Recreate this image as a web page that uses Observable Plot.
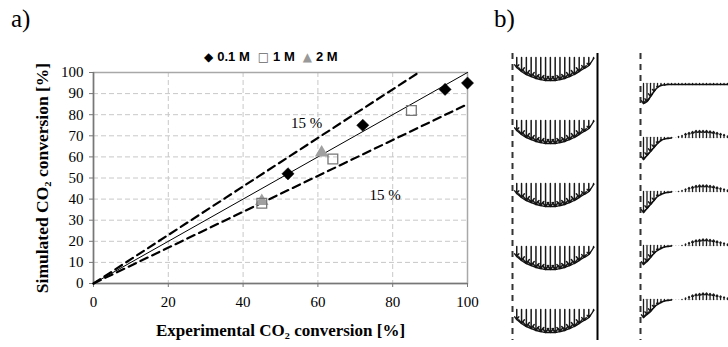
<!DOCTYPE html>
<html>
<head>
<meta charset="utf-8">
<script src="https://cdn.jsdelivr.net/npm/d3@7"></script>
<script src="https://cdn.jsdelivr.net/npm/@observablehq/plot@0.6"></script>
<style>
  html, body { margin: 0; padding: 0; background: #fff; }
  #wrap { position: relative; width: 728px; height: 347px; overflow: hidden; background: #fff; }
  .abs { position: absolute; top: 0; }
  .panel { position: absolute; font-family: "Liberation Serif", "Times New Roman", serif; font-size: 25px; line-height: 25px; color: #000; }
  #legend { position: absolute; left: 204px; top: 49px; display: flex; align-items: center;
            font-family: "Liberation Sans", Arial, sans-serif; font-weight: bold; font-size: 13px; color: #000; white-space: nowrap; }
  #legend span.sym { font-family: "DejaVu Sans", sans-serif; font-size: 12px; margin-right: 4px; }
  #legend span.item { margin-right: 8px; }
</style>
</head>
<body>
<div id="wrap">
  <div class="panel" style="left:11px; top:6px;">a)</div>
  <div class="panel" style="left:494px; top:6px;">b)</div>
  <div id="legend"></div>
  <div id="pa" class="abs" style="left:0px;"></div>
  <div id="pbl" class="abs" style="left:490px;"></div>
  <div id="pbr" class="abs" style="left:620px;"></div>
</div>
<script>
// ---------- Panel a data ----------
const xTicks = [0, 20, 40, 60, 80, 100];
const yTicks = [0, 10, 20, 30, 40, 50, 60, 70, 80, 90, 100];
const seriesNames = ["0.1 M", "1 M", "2 M"];
const exp01 = [52, 72, 94, 100];
const sim01 = [52, 75, 92, 95];
const exp1 = [45, 64, 85];
const sim1 = [38, 59, 82];
const exp2 = [45, 61];
const sim2 = [39, 62];
const refSlopes = [1, 1.15, 0.85];
const bandLabels = ["15 %", "15 %"];
const bandLabelX = [57, 78];
const bandLabelY = [76, 42];
const xTitle = "Experimental CO\u2082 conversion [%]";
const yTitle = "Simulated CO\u2082 conversion [%]";

// ---------- Panel b data ----------
const profileRows = [0, 1, 2, 3, 4];
// left channel: axial velocity (arrow length) at 17 radial stations, same for each row
const leftVel = [10, 14, 17, 19, 21, 22, 23, 23, 23, 22, 21, 19, 17, 14, 11, 8, 1];
// right channel: signed velocity at 25 radial stations (positive = downward)
const rightVel = [
  [20, 18, 13, 8, 4, 2, 1.5, 1, 1, 1, 1, 1, 1, 1, 1, 1, 1, 1, 1, 1, 1, 1, 1, 1, 1],
  [22, 18, 14, 10, 6, 3, 1.5, 1, 0.5, 0, -1, -2, -4, -5, -6, -7, -7, -7, -7, -6.5, -6, -5, -4, -3, -1.5],
  [21, 17, 13, 9, 5, 3, 1.5, 1, 0.5, 0, -0.5, -1, -2.5, -4, -5, -6, -6.5, -6.5, -6.5, -6, -5.5, -4.5, -3.5, -2.5, -1.5],
  [19, 16, 12, 8, 5, 3, 1.5, 1, 0.5, 0, 0, -0.5, -1.5, -3, -4.5, -5.5, -6, -6.5, -6.5, -6, -5.5, -4.5, -3.5, -2.5, -1.5],
  [18, 15, 12, 8, 5, 3, 1.5, 1, 0.5, 0, 0, -0.5, -1.5, -3, -4.5, -5.5, -6, -6.5, -6.5, -6, -5.5, -4.5, -3.5, -2.5, -1.5]
];

// ---------- Panel a ----------
const pts = [
  ...exp01.map((x, i) => ({x, y: sim01[i], s: seriesNames[0]})),
  ...exp1.map((x, i) => ({x, y: sim1[i], s: seriesNames[1]})),
  ...exp2.map((x, i) => ({x, y: sim2[i], s: seriesNames[2]}))
];
const refLines = refSlopes.flatMap((k, j) => [
  {x: 0, y: 0, k, j},
  {x: Math.min(100, 100 / k), y: Math.min(100, 100 * k), k, j}
]);
const labels = bandLabels.map((t, i) => ({t, x: bandLabelX[i], y: bandLabelY[i]}));

const plotA = Plot.plot({
  width: 480, height: 347,
  marginLeft: 93, marginRight: 13, marginTop: 72, marginBottom: 64,
  x: {domain: [0, 100]},
  y: {domain: [0, 100]},
  style: {fontFamily: "'Liberation Serif', 'Times New Roman', serif", fontSize: "15px", color: "#000", background: "transparent", overflow: "visible"},
  marks: [
    Plot.gridX(xTicks, {stroke: "#c8c8c8", strokeOpacity: 1, strokeDasharray: "5,3"}),
    Plot.gridY(yTicks, {stroke: "#c8c8c8", strokeOpacity: 1, strokeDasharray: "5,3"}),
    Plot.frame({stroke: "#a8a8a8", strokeWidth: 1.5}),
    Plot.ruleY([0], {stroke: "#777", strokeWidth: 1.5}),
    Plot.ruleX([0], {stroke: "#777", strokeWidth: 1.5}),
    Plot.axisX(xTicks, {tickSize: 4, tickPadding: 9, label: null, stroke: "#777", fontSize: 15}),
    Plot.axisY(yTicks, {tickSize: 4, tickPadding: 6, label: null, stroke: "#777", fontSize: 15}),
    Plot.line(refLines.filter(d => d.k === 1), {x: "x", y: "y", stroke: "#000", strokeWidth: 1}),
    Plot.line(refLines.filter(d => d.k !== 1), {x: "x", y: "y", z: "j", stroke: "#000", strokeWidth: 2.2, strokeDasharray: "8,5"}),
    Plot.text(labels, {x: "x", y: "y", text: "t", fontSize: 15}),
    Plot.dot(pts.filter(d => d.s === seriesNames[2]), {x: "x", y: "y", symbol: "triangle", r: 5, fill: "#a0a0a0"}),
    Plot.dot(pts.filter(d => d.s === seriesNames[1]), {x: "x", y: "y", symbol: "square", r: 5.5, fill: "none", stroke: "#777", strokeWidth: 1.3}),
    Plot.dot(pts.filter(d => d.s === seriesNames[0]), {x: "x", y: "y", symbol: "diamond2", r: 5.5, fill: "#000", stroke: "#000", strokeWidth: 0.5}),
    Plot.text([xTitle], {frameAnchor: "bottom", dy: 52, fontWeight: "bold", fontSize: 17}),
    Plot.text([yTitle], {frameAnchor: "left", textAnchor: "middle", dx: -51, rotate: -90, fontWeight: "bold", fontSize: 17.5})
  ]
});
document.getElementById("pa").appendChild(plotA);

// legend
const legendSyms = [
  {sym: "\u25C6", color: "#000"},
  {sym: "\u25A1", color: "#666"},
  {sym: "\u25B2", color: "#999"}
];
const leg = document.getElementById("legend");
seriesNames.forEach((name, i) => {
  const s = document.createElement("span");
  s.className = "sym";
  s.style.color = legendSyms[i].color;
  s.textContent = legendSyms[i].sym;
  const t = document.createElement("span");
  t.className = "item";
  t.textContent = name;
  leg.appendChild(s); leg.appendChild(t);
});

// ---------- Panel b, left channel ----------
const leftStations = leftVel.map((_, i) => 0.05 + i * 0.0565);
const leftRowSpacing = 63;   // velocity units between consecutive profiles
const leftData = profileRows.flatMap(r => leftVel.map((v, i) => ({r, x: leftStations[i], y1: r * leftRowSpacing, y2: r * leftRowSpacing + v, v})));

const plotBL = Plot.plot({
  width: 120, height: 347,
  marginLeft: 22, marginRight: 13, marginTop: 53, marginBottom: 7,
  x: {domain: [0, 1], axis: null},
  y: {domain: [-4, 283], reverse: true, axis: null},
  style: {background: "transparent"},
  marks: [
    Plot.ruleX([0], {stroke: "#333", strokeWidth: 2, strokeDasharray: "6,5"}),
    Plot.ruleX([1], {stroke: "#000", strokeWidth: 2}),
    Plot.arrow(leftData, {x1: "x", x2: "x", y1: "y1", y2: "y2", stroke: "#1a1a1a", strokeWidth: 1.5, headLength: 5, headAngle: 75}),
    Plot.line(leftData, {x: "x", y: "y2", z: "r", stroke: "#111", strokeWidth: 1.4, curve: "natural"})
  ]
});
document.getElementById("pbl").appendChild(plotBL);

// ---------- Panel b, right channel ----------
const rightStations = rightVel[0].map((_, i) => 0.034 + i * 0.0398);
const rightRowSpacing = 54;
const rightData = profileRows.flatMap(r => rightVel[r].map((v, i) => ({r, i, x: rightStations[i], y1: r * rightRowSpacing, y2: r * rightRowSpacing + v, v})));

const plotBR = Plot.plot({
  width: 108, height: 347,
  marginLeft: 20, marginRight: 0, marginTop: 53, marginBottom: 7,
  x: {domain: [0, 1], axis: null},
  y: {domain: [-30, 257], reverse: true, axis: null},
  style: {background: "transparent", overflow: "visible"},
  marks: [
    Plot.ruleX([0], {stroke: "#333", strokeWidth: 2, strokeDasharray: "6,5"}),
    Plot.ruleY(profileRows.map(r => r * rightRowSpacing), {x1: 0.06, x2: 1, stroke: "#bbb", strokeWidth: 0.8, strokeDasharray: "1,2"}),
    Plot.arrow(rightData.filter(d => Math.abs(d.v) >= 1), {x1: "x", x2: "x", y1: "y1", y2: "y2", stroke: "#1a1a1a", strokeWidth: 1.3, headLength: 4, headAngle: 75}),
    Plot.dot(rightData.filter(d => Math.abs(d.v) < 1 && d.v !== 0), {x: "x", y: "y1", r: 0.8, fill: "#333"}),
    Plot.line(rightData.filter(d => d.v > 0 && (d.r === 0 || d.i < 9)), {x: "x", y: "y2", z: "r", stroke: "#111", strokeWidth: 1.5, curve: "natural"})
  ]
});
document.getElementById("pbr").appendChild(plotBR);
</script>
</body>
</html>
